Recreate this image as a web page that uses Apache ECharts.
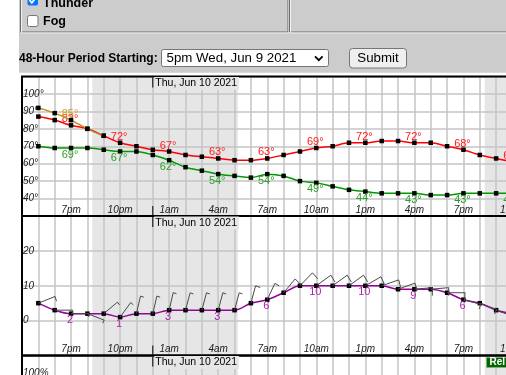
<!DOCTYPE html>
<html><head><meta charset="utf-8">
<script src="https://cdn.jsdelivr.net/npm/echarts@6/dist/echarts.min.js"></script>
<style>html,body{margin:0;padding:0;background:#fff;}#c{width:506px;height:375px;}</style>
</head><body><div id="c"></div>
<script>
// ---------------- data ----------------
// hours after 4pm Wed, Jun 9 2021
const pointHours = [1,2,3,4,5,6,7,8,9,10,11,12,13,14,15,16,17,18,19,20,21,22,23,24,25,26,27,28,29,30];
const pointTimes = ['5pm','6pm','7pm','8pm','9pm','10pm','11pm','12am','1am','2am','3am','4am','5am','6am','7am','8am','9am','10am','11am','12pm','1pm','2pm','3pm','4pm','5pm','6pm','7pm','8pm','9pm','10pm'];
const temperature = [87,85,82,80,76,72,70,68,67,65,64,63,62,62,63,65,67,69,70,72,72,73,73,72,72,70,68,65,63,61];
const dewPoint    = [70,69,69,69,68,67,67,65,62,58,56,54,53,52,54,53,50,49,47,45,44,43,43,43,42,42,43,43,43,43];
const heatIndex   = [92,89,85,80,76];
const windSpeed   = [5,3,2,2,2,1,2,2,3,3,3,3,3,5,6,8,10,10,10,10,10,10,9,9,9,8,6,5,3,2];
const windDir     = [68,90,90,111,50,36,13,13,13,15,15,15,15,15,25,40,44,54,54,54,60,71,70,85,85,90,105,110,110,110];
const nightStart  = [4.3, 28.3];
const nightEnd    = [13.2, 37.2];
const midnightHour = 8;
const dayLabel = 'Thu, Jun 10 2021';
const tempTicks = [40,50,60,70,80,90,100];
const windTicks = [0,10,20];
const pctTicks  = [100];

// ---------------- style ----------------
const FONT = 'Arial, "Liberation Sans", sans-serif';
const GRID_C = '#c4c4c4';
const SHADE = '#e6e6e6';
const LEFT = 22, HOUR_W = 16.35;
const panels = [{top:76.5, h:139.5},{top:216, h:139.5},{top:355.5, h:139.5}];

function hourLabel(v){
  const i = v - 1;
  return (v % 3 === 0 && i >= 0 && i < pointTimes.length) ? pointTimes[i] : '';
}
const chart = echarts.init(document.getElementById('c'), null, {width:506, height:375});

const grids = panels.map(p => ({left:LEFT, top:p.top, width:48*HOUR_W, height:p.h, outerBoundsMode:'none', containLabel:false,
  show:true, borderColor:'#000', borderWidth:2, backgroundColor:'transparent', z:10}));

const xAxes = panels.map((p,i) => ({type:'value', gridIndex:i, min:0, max:48, interval:1, z:1,
  axisLine:{show:false}, axisTick:{show:false},
  splitLine:{show:true, lineStyle:{color:GRID_C, width:1.5}},
  axisLabel:{inside:true, margin:1, fontSize:10, fontStyle:'italic', fontFamily:FONT, color:'#1a1a1a',
    showMinLabel:true, showMaxLabel:true, formatter: v => hourLabel(v)}}));

const yLab = {inside:true, margin:1, fontSize:10, fontStyle:'italic', fontFamily:FONT, color:'#1a1a1a'};
const yAxes = [
  {type:'value', gridIndex:0, min:30, max:110, interval:10, z:1, axisLine:{show:false}, axisTick:{show:false},
   splitLine:{lineStyle:{color:GRID_C, width:1.5}},
   axisLabel:Object.assign({}, yLab, {formatter: v => tempTicks.includes(v) ? v + '°' : ''})},
  {type:'value', gridIndex:1, min:-10, max:30, interval:10, z:1, axisLine:{show:false}, axisTick:{show:false},
   splitLine:{lineStyle:{color:GRID_C, width:1.5}},
   axisLabel:Object.assign({}, yLab, {formatter: v => windTicks.includes(v) ? String(v) : ''})},
  {type:'value', gridIndex:2, min:30, max:110, interval:10, z:1, axisLine:{show:false}, axisTick:{show:false},
   splitLine:{show:false},
   axisLabel:Object.assign({}, yLab, {formatter: v => pctTicks.includes(v) ? v + '%' : ''})}
];

function shadeItem(params, api){
  const cs = params.coordSys;
  const x0 = api.coord([api.value(0), 0])[0];
  const x1 = api.coord([api.value(1), 0])[0];
  return {type:'rect', shape:{x:x0, y:cs.y, width:x1-x0, height:cs.height}, style:{fill:SHADE}};
}
const nightData = nightStart.map((s,i) => [s, nightEnd[i]]);
const shadeSeries = panels.map((p,i) => ({type:'custom', xAxisIndex:i, yAxisIndex:i, z:0, silent:true,
  renderItem: shadeItem, data: nightData, encode:{x:[0,1]}}));

function pts(vals){ return vals.map((v,i) => [pointHours[i], v]); }
function lineSeries(axis, vals, color, lblColor, dy, suffix, z){
  return {type:'line', xAxisIndex:axis, yAxisIndex:axis, data:pts(vals), smooth:0.3, z:z, silent:true,
    lineStyle:{color:color, width:1.5}, symbol:'rect', symbolSize:4.5, itemStyle:{color:'#000'},
    label:{show:true, position:'inside', offset:[-1,dy], color:lblColor, fontSize:11, fontFamily:FONT,
      formatter: p => p.value[0] % 3 === 0 ? p.value[1] + suffix : ''},
    emphasis:{disabled:true}};
}

function barbItem(params, api){
  const h = api.value(0), s = api.value(1), dir = api.value(2);
  const p = api.coord([h, s]);
  const r = dir * Math.PI / 180;
  const ux = Math.sin(r), uy = -Math.cos(r);
  const L = 18;
  const tx = p[0] + ux*L, ty = p[1] + uy*L;
  const bl = s >= 8 ? 8 : (s >= 5 ? 5 : 3.5);
  const a = 95 * Math.PI / 180;
  const bx = ux*Math.cos(a) - uy*Math.sin(a), by = ux*Math.sin(a) + uy*Math.cos(a);
  return {type:'polyline', shape:{points:[[p[0],p[1]],[tx,ty],[tx+bx*bl, ty+by*bl]]},
    style:{stroke:'#4a4a4a', lineWidth:1, fill:'none'}};
}

const series = shadeSeries.concat([
  lineSeries(0, temperature, '#ff0000', '#ff1a1a', -6, '°', 3),
  lineSeries(0, dewPoint, '#009900', '#2ca02c', 6.5, '°', 3),
  lineSeries(0, heatIndex, '#c08a1a', '#d4a020', -6, '°', 4),
  lineSeries(1, windSpeed, '#990099', '#aa22aa', 6.5, '', 3),
  {type:'custom', xAxisIndex:1, yAxisIndex:1, z:5, silent:true, renderItem:barbItem,
   data: pointHours.map((h,i) => [h, windSpeed[i], windDir[i]])}
]);

chart.setOption({animation:false, backgroundColor:'#fff', grid:grids, xAxis:xAxes, yAxis:yAxes, series:series});

// ---------------- page chrome + day labels ----------------
const mx = chart.convertToPixel({xAxisIndex:0}, midnightHour);
const G = [];
const Z = 100;
G.push({type:'rect', z:Z, shape:{x:19, y:0, width:487, height:72.7}, style:{fill:'#cccccc'}});
// fieldsets
G.push({type:'rect', z:Z, shape:{x:20.5, y:-5, width:267.5, height:37}, style:{fill:'none', stroke:'#6a6a6a', lineWidth:1}});
G.push({type:'rect', z:Z, shape:{x:21.5, y:-4, width:267.5, height:37}, style:{fill:'none', stroke:'#f2f2f2', lineWidth:1}});
G.push({type:'rect', z:Z, shape:{x:289.5, y:-5, width:240, height:37}, style:{fill:'none', stroke:'#6a6a6a', lineWidth:1}});
G.push({type:'rect', z:Z, shape:{x:290.5, y:-4, width:240, height:37}, style:{fill:'none', stroke:'#f2f2f2', lineWidth:1}});
// checkboxes
G.push({type:'rect', z:Z, shape:{x:27.5, y:-6, width:10.5, height:11.5, r:2}, style:{fill:'#0075ff'}});
G.push({type:'polyline', z:Z, shape:{points:[[29.5,0],[31.8,2.8],[36,-2.5]]}, style:{stroke:'#fff', lineWidth:1.8, fill:'none'}});
G.push({type:'text', z:Z, x:43, y:3.5, style:{text:'Thunder', font:'bold 12.5px '+FONT, fill:'#000', verticalAlign:'middle'}});
G.push({type:'rect', z:Z, shape:{x:27.5, y:15.5, width:10.5, height:11, r:2}, style:{fill:'#fff', stroke:'#767676', lineWidth:1}});
G.push({type:'text', z:Z, x:43, y:21.5, style:{text:'Fog', font:'bold 12.5px '+FONT, fill:'#000', verticalAlign:'middle'}});
// period row
G.push({type:'text', z:Z, x:19, y:58.5, style:{text:'48-Hour Period Starting:', font:'bold 12px '+FONT, fill:'#000', verticalAlign:'middle'}});
G.push({type:'rect', z:Z, shape:{x:161.5, y:49.5, width:167, height:17, r:2}, style:{fill:'#fff', stroke:'#767676', lineWidth:1}});
G.push({type:'text', z:Z, x:166.5, y:58.2, style:{text:'5pm Wed, Jun 9 2021', font:'13.3px '+FONT, fill:'#000', verticalAlign:'middle'}});
G.push({type:'polyline', z:Z, shape:{points:[[315,56.3],[318.8,60.2],[322.6,56.3]]}, style:{stroke:'#000', lineWidth:1.8, fill:'none'}});
G.push({type:'rect', z:Z, shape:{x:349.5, y:48.5, width:57, height:19.5, r:3}, style:{fill:'#efefef', stroke:'#767676', lineWidth:1}});
G.push({type:'text', z:Z, x:378, y:58.5, style:{text:'Submit', font:'13.3px '+FONT, fill:'#000', align:'center', verticalAlign:'middle'}});
// day labels and midnight separators
panels.forEach(p => {
  G.push({type:'text', z:Z, x:mx+1.5, y:p.top+7, style:{text:dayLabel, font:'10.5px '+FONT, fill:'#000', verticalAlign:'middle',
    backgroundColor:SHADE, padding:[1,2,1,1]}});
  G.push({type:'line', z:Z+1, shape:{x1:mx, y1:p.top+1, x2:mx, y2:p.top+11}, style:{stroke:'#000', lineWidth:1}});
  G.push({type:'line', z:Z+1, shape:{x1:mx, y1:p.top+p.h-10, x2:mx, y2:p.top+p.h-1}, style:{stroke:'#000', lineWidth:1}});
});
// release badge
G.push({type:'rect', z:Z, shape:{x:486.5, y:357.5, width:24, height:10}, style:{fill:'#006600', stroke:'#7fb07f', lineWidth:1}});
G.push({type:'text', z:Z, x:489.5, y:362.7, style:{text:'Rel', font:'bold 10px '+FONT, fill:'#fff', verticalAlign:'middle'}});

chart.setOption({graphic:G});
</script>
</body></html>
